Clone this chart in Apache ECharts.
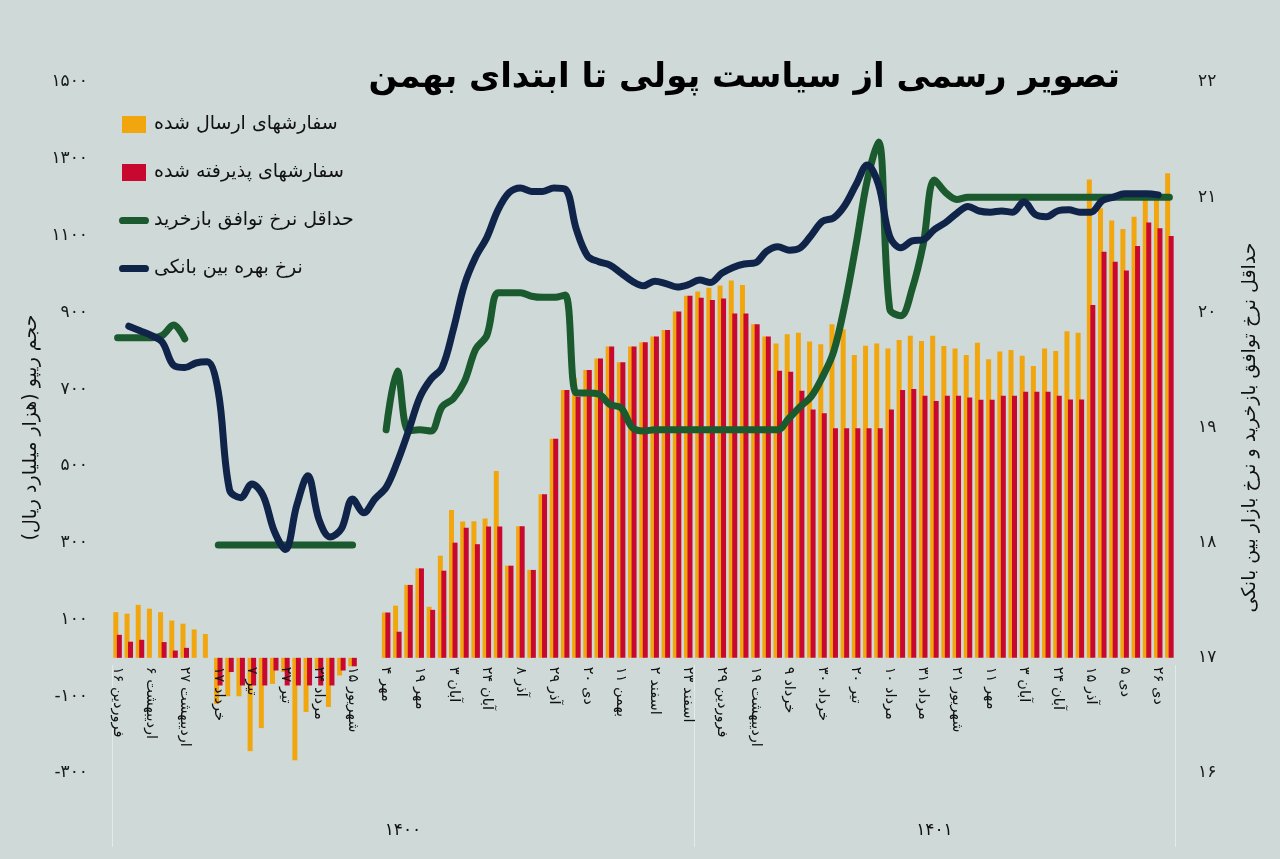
<!DOCTYPE html>
<html><head><meta charset="utf-8">
<script src="https://cdn.jsdelivr.net/npm/echarts@6/dist/echarts.min.js"></script>
<style>html,body{margin:0;padding:0;background:#ced9d8}#c{width:1280px;height:859px}</style>
</head><body><div id="c"></div>
<script>
const categories = [
'۱۶ فروردین','۲۳ فروردین','۳۰ فروردین','۶ اردیبهشت','۱۳ اردیبهشت','۲۰ اردیبهشت','۲۷ اردیبهشت','۳ خرداد','۱۰ خرداد','۱۷ خرداد',
'۲۴ خرداد','۳۱ خرداد','۷ تیر','۱۴ تیر','۲۰ تیر','۲۷ تیر','۳ مرداد','۱۰ مرداد','۲۴ مرداد','۳۱ مرداد',
'۷ شهریور','۱۵ شهریور','۲۲ شهریور','۲۹ شهریور','۴ مهر','۱۱ مهر','۱۵ مهر','۱۹ مهر','۲۴ مهر','۲۸ مهر',
'۳ آبان','۱۰ آبان','۱۷ آبان','۲۴ آبان','۱ آذر','۵ آذر','۸ آذر','۱۵ آذر','۲۲ آذر','۲۹ آذر',
'۶ دی','۱۳ دی','۲۰ دی','۲۷ دی','۴ بهمن','۱۱ بهمن','۱۸ بهمن','۲۵ بهمن','۲ اسفند','۹ اسفند',
'۱۶ اسفند','۲۳ اسفند','۱۵ فروردین','۲۲ فروردین','۲۹ فروردین','۵ اردیبهشت','۱۲ اردیبهشت','۱۹ اردیبهشت','۲۶ اردیبهشت','۲ خرداد',
'۹ خرداد','۱۶ خرداد','۲۳ خرداد','۳۰ خرداد','۶ تیر','۱۳ تیر','۲۰ تیر','۲۷ تیر','۳ مرداد','۱۰ مرداد',
'۱۷ مرداد','۲۴ مرداد','۳۱ مرداد','۷ شهریور','۱۴ شهریور','۲۱ شهریور','۲۸ شهریور','۴ مهر','۱۱ مهر','۱۸ مهر',
'۲۵ مهر','۳ آبان','۱۰ آبان','۱۷ آبان','۲۴ آبان','۱ آذر','۸ آذر','۱۵ آذر','۲۲ آذر','۲۹ آذر',
'۵ دی','۱۲ دی','۱۹ دی','۲۶ دی','۳ بهمن'
];

const sentOrders = [
119,115,138,128,119,97,89,74,62,-120,
-100,-100,-243,-183,-68,-37,-267,-141,-29,-128,
-46,-22,null,null,118,136,190,233,133,266,
385,355,356,363,487,240,343,229,426,571,
698,728,750,780,811,770,811,822,837,854,
902,943,954,964,970,983,971,869,837,819,
843,847,824,817,869,856,789,813,819,806,
828,839,825,839,812,806,789,821,778,798,
802,787,760,806,799,851,847,1246,1171,1139,
1117,1149,1195,1195,1262
];

const acceptedOrders = [
60,42,47,0,41,19,26,0,0,-72,
-37,-72,-72,-72,-33,-72,-72,-72,-72,-72,
-33,-22,null,null,118,68,190,233,125,227,
300,339,296,342,342,240,343,229,426,571,
698,680,750,780,811,770,811,822,837,854,
902,943,938,932,936,897,897,869,837,748,
745,696,647,637,598,598,598,598,598,647,
698,700,683,669,683,683,678,672,672,683,
683,693,693,693,683,673,673,919,1058,1032,
1009,1073,1134,1119,1099
];

const repoMinRate = [
19.78,19.78,19.78,19.78,19.8,19.89,19.77,null,null,17.98,
17.98,17.98,17.98,17.98,17.98,17.98,17.98,17.98,17.98,17.98,
17.98,17.98,null,null,18.98,19.49,18.97,18.98,18.97,19.18,
19.25,19.4,19.68,19.8,20.17,20.17,20.17,20.14,20.13,20.13,
20.15,19.3,19.3,19.29,19.2,19.17,19.0,18.97,18.98,18.98,
18.98,18.98,18.98,18.98,18.98,18.98,18.98,18.98,18.98,18.98,
19.08,19.18,19.27,19.44,19.66,20.07,20.59,21.15,21.48,20.03,
19.97,20.2,20.59,21.15,21.04,20.98,21,21,21,21,
21,21,21,21,21,21,21,21,21,21,
21,21,21,21,21
];

const interbankRate = [
null,19.88,19.84,19.8,19.74,19.54,19.52,19.56,19.57,19.31,
18.46,18.39,18.51,18.41,18.1,17.94,18.32,18.58,18.2,18.05,
18.12,18.38,18.26,18.38,18.48,18.7,18.97,19.26,19.42,19.52,
19.85,20.24,20.48,20.65,20.89,21.04,21.08,21.05,21.05,21.08,
21.07,20.72,20.49,20.44,20.41,20.34,20.27,20.23,20.27,20.25,
20.22,20.24,20.28,20.26,20.34,20.39,20.42,20.43,20.53,20.57,
20.54,20.56,20.67,20.79,20.82,20.93,21.11,21.28,21.11,20.66,
20.56,20.62,20.63,20.72,20.78,20.86,20.92,20.88,20.87,20.88,
20.87,20.96,20.85,20.83,20.88,20.89,20.87,20.87,20.97,21.0,
21.03,21.03,21.03,21.02,null
];

const years = ['۱۴۰۰', '۱۴۰۱'];
const yearStartIndex = [0, 52];

const seriesNames = ['سفارشهای ارسال شده', 'سفارشهای پذیرفته شده', 'حداقل نرخ توافق بازخرید', 'نرخ بهره بین بانکی'];
const title = 'تصویر رسمی از سیاست پولی تا ابتدای بهمن';
const leftAxisName = 'حجم ریپو (هزار میلیارد ریال)\u200F';
const rightAxisName = 'حداقل نرخ توافق بازخرید و نرخ بازار بین بانکی';

const FONT = 'DejaVu Sans';
const fa = v => String(v).replace(/\d/g, d => '۰۱۲۳۴۵۶۷۸۹'[d]);

const n = categories.length;
const yearBounds = yearStartIndex.concat([n]);
const yearMid = yearStartIndex.map((s, k) => (s + yearBounds[k + 1]) / 2);

const LEFT_MIN = -300, LEFT_MAX = 1500;
const GRID = { left: 112, right: 105, top: 82, bottom: 86 };
const gridH = 859 - GRID.top - GRID.bottom;
// move the category axis up to the zero line of the left value axis
const zeroOffset = -gridH * (0 - LEFT_MIN) / (LEFT_MAX - LEFT_MIN);

const COLORS = { sent: '#f2a60d', accepted: '#c9082f', repo: '#1b5a2e', interbank: '#0f2448' };
const barIcon = 'path://M0,0H24V17H0Z';
const lineIcon = 'path://M3.5,0H25.5A3.5,3.5,0,0,1,25.5,7H3.5A3.5,3.5,0,0,1,3.5,0Z';

const chart = echarts.init(document.getElementById('c'));
chart.setOption({
  animation: false,
  backgroundColor: '#ced9d8',
  textStyle: { fontFamily: FONT },
  title: {
    text: title, right: 155, top: 56,
    textStyle: { fontFamily: FONT, fontSize: 34, fontWeight: 'bold', color: '#000' }
  },
  legend: {
    orient: 'vertical', left: 114, top: 110, itemWidth: 30, itemHeight: 17, itemGap: 29,
    textStyle: { fontFamily: FONT, fontSize: 19, color: '#111' },
    data: [
      { name: seriesNames[0], icon: barIcon },
      { name: seriesNames[1], icon: barIcon },
      { name: seriesNames[2], icon: lineIcon },
      { name: seriesNames[3], icon: lineIcon }
    ]
  },
  grid: Object.assign({ outerBoundsMode: 'none', containLabel: false }, GRID),
  xAxis: [
    {
      type: 'category', data: categories, boundaryGap: true, z: 10,
      position: 'bottom', offset: zeroOffset,
      axisLine: { show: false, onZero: false },
      axisTick: { show: false },
      axisLabel: { interval: 2, rotate: -90, fontSize: 14.5, color: '#111', margin: 9, fontFamily: FONT }
    },
    {
      type: 'value', min: 0, max: n, position: 'bottom', offset: 74,
      axisLine: { show: false, onZero: false },
      splitLine: { show: false },
      axisTick: { show: true, inside: true, length: 182, customValues: yearBounds,
        lineStyle: { color: 'rgba(255,255,255,0.45)', width: 1 } },
      axisLabel: { inside: true, margin: 8, customValues: yearMid, fontSize: 17, color: '#111', fontFamily: FONT,
        formatter: v => years[yearMid.indexOf(v)] || '' }
    }
  ],
  yAxis: [
    {
      type: 'value', min: LEFT_MIN, max: LEFT_MAX, interval: 200, position: 'left',
      axisLine: { show: false, onZero: false }, axisTick: { show: false }, splitLine: { show: false },
      axisLabel: { formatter: v => fa(v), fontSize: 17, color: '#1a1a1a', margin: 24, fontFamily: FONT },
      name: leftAxisName, nameLocation: 'middle', nameGap: 65,
      nameTextStyle: { fontSize: 19, color: '#111', fontFamily: FONT }
    },
    {
      type: 'value', min: 16, max: 22, interval: 1, position: 'right',
      axisLine: { show: false, onZero: false }, axisTick: { show: false }, splitLine: { show: false },
      axisLabel: { formatter: v => fa(v), fontSize: 17, color: '#1a1a1a', margin: 23, fontFamily: FONT },
      name: rightAxisName, nameLocation: 'middle', nameGap: 66,
      nameTextStyle: { fontSize: 19, color: '#111', fontFamily: FONT }
    }
  ],
  series: [
    { name: seriesNames[0], type: 'bar', data: sentOrders, barWidth: 5, barGap: '-30%',
      itemStyle: { color: COLORS.sent } },
    { name: seriesNames[1], type: 'bar', data: acceptedOrders, barWidth: 5, barGap: '-30%',
      itemStyle: { color: COLORS.accepted } },
    { name: seriesNames[2], type: 'line', yAxisIndex: 1, data: repoMinRate, smooth: 0.35,
      symbol: 'none', connectNulls: false, itemStyle: { color: COLORS.repo },
      lineStyle: { width: 7, color: COLORS.repo, cap: 'round', join: 'round' } },
    { name: seriesNames[3], type: 'line', yAxisIndex: 1, data: interbankRate, smooth: 0.35,
      symbol: 'none', connectNulls: false, itemStyle: { color: COLORS.interbank },
      lineStyle: { width: 7, color: COLORS.interbank, cap: 'round', join: 'round' } }
  ]
});
</script>
</body></html>
